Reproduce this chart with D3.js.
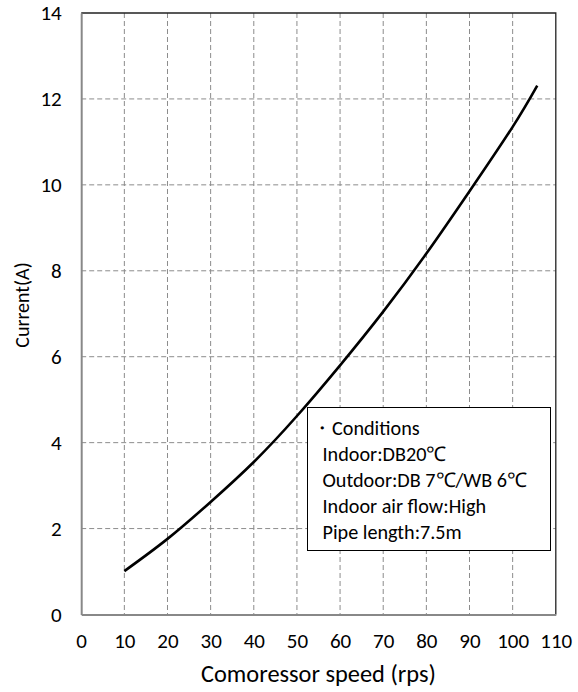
<!DOCTYPE html>
<html><head><meta charset="utf-8">
<script src="https://cdn.jsdelivr.net/npm/d3@7"></script>
<style>body{margin:0;background:#fff}svg{display:block}text{font-family:Carlito,Calibri,Lato,"Open Sans",sans-serif;fill:#000}</style>
</head><body><svg id="c" width="578" height="692"></svg>
<script>
const speeds = [10, 20, 30, 40, 50, 60, 70, 80, 90, 100, 105.7];
const currents = [1.01, 1.76, 2.62, 3.55, 4.62, 5.8, 7.05, 8.4, 9.85, 11.35, 12.31];
const xTicks = [0,10,20,30,40,50,60,70,80,90,100,110];
const yTicks = [0,2,4,6,8,10,12,14];
const xTitle = "Comoressor speed (rps)";
const yTitle = "Current(A)";
const legendLines = ["・Conditions","Indoor:DB20℃","Outdoor:DB 7℃/WB 6℃","Indoor air flow:High","Pipe length:7.5m"];

const svg = d3.select("#c");
const L=81.2, R=555.8, T=13, B=614.5;
const x = d3.scaleLinear().domain([0,110]).range([L,R]);
const y = d3.scaleLinear().domain([0,14]).range([B,T]);

// grid
svg.append("g").selectAll("line").data(xTicks.filter(d=>d>0&&d<110)).join("line")
  .attr("x1",d=>x(d)).attr("x2",d=>x(d)).attr("y1",T).attr("y2",B)
  .attr("stroke","#8c8c8c").attr("stroke-width",1).attr("stroke-dasharray","5,3");
svg.append("g").selectAll("line").data(yTicks.filter(d=>d>0&&d<14)).join("line")
  .attr("y1",d=>y(d)).attr("y2",d=>y(d)).attr("x1",L).attr("x2",R)
  .attr("stroke","#8c8c8c").attr("stroke-width",1).attr("stroke-dasharray","5,3");

// border top/right
svg.append("path").attr("d",`M${L},${T}H${R}V${B}`).attr("fill","none").attr("stroke","#222").attr("stroke-width",1.3);

const tickFont = 'Carlito,Calibri,Lato,"Open Sans",sans-serif';
// axes
const xAxis = d3.axisBottom(x).tickValues(xTicks).tickSize(0).tickPadding(19);
const gx = svg.append("g").attr("transform",`translate(0,${B})`).call(xAxis);
gx.select(".domain").attr("stroke","#888").attr("stroke-width",2);
const yAxis = d3.axisLeft(y).tickValues(yTicks).tickSize(0).tickPadding(19.5);
const gy = svg.append("g").attr("transform",`translate(${L},0)`).call(yAxis);
gy.select(".domain").attr("stroke","#888").attr("stroke-width",2);
svg.selectAll(".tick text").attr("fill","#000").style("font-family",tickFont).style("font-size","21px");

// curve
const line = d3.line().x((d,i)=>x(speeds[i])).y(d=>y(d)).curve(d3.curveNatural);
svg.append("path").datum(currents).attr("d",line).attr("fill","none").attr("stroke","#000").attr("stroke-width",2.6);

// titles
svg.append("text").attr("x",(L+R)/2).attr("y",682).attr("text-anchor","middle").style("font-size","24.4px").text(xTitle);
svg.append("text").attr("transform",`translate(29,305) rotate(-90)`).attr("text-anchor","middle").style("font-size","20px").text(yTitle);

// legend box
svg.append("rect").attr("x",307.5).attr("y",407.5).attr("width",243).attr("height",143).attr("fill","#fff").attr("stroke","#000").attr("stroke-width",1);
svg.append("g").selectAll("text").data(legendLines).join("text")
  .attr("x",(d,i)=>i===0?312:322.5).attr("y",(d,i)=>435+i*25.9).style("font-size","20.2px").text(d=>d);
</script></body></html>
